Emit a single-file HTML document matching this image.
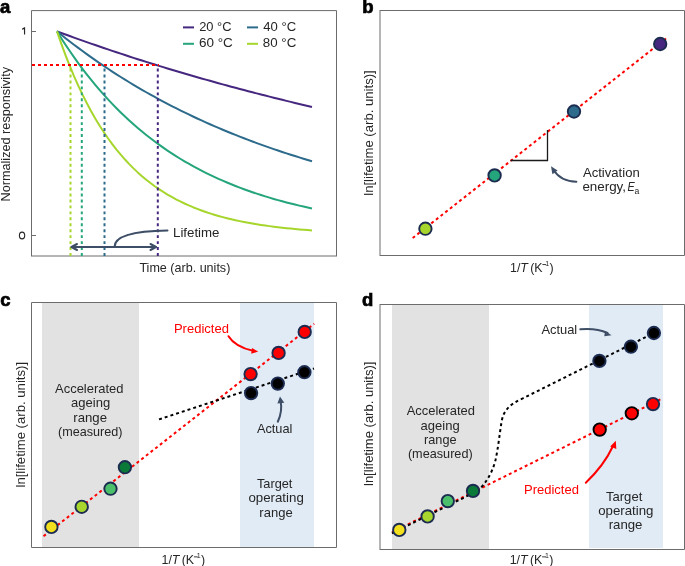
<!DOCTYPE html>
<html><head><meta charset="utf-8"><style>
html,body{margin:0;padding:0;background:#fff;width:685px;height:566px;overflow:hidden;font-family:"Liberation Sans",sans-serif;}
svg{display:block;will-change:transform;}
</style></head><body>
<svg width="685" height="566" viewBox="0 0 685 566">
<rect width="685" height="566" fill="#fff"/>
<g font-family="Liberation Sans, sans-serif" font-weight="bold" font-size="18.5" fill="#000" stroke="#000" stroke-width="0.7"><text x="-0.1" y="13.0">a</text><text x="362.3" y="13.0">b</text><text x="0.3" y="306.2">c</text><text x="362.1" y="306.2">d</text></g>
<path d="M31.5,10.6 H336.5 M336.5,10.5 V256 M31.5,10.5 V256" fill="none" stroke="#6c6c6c" stroke-width="1"/>
<path d="M31,256 H337" stroke="#6c6c6c" stroke-width="1"/>
<path d="M31.5,31.5 H36 M31.5,235.5 H36" stroke="#6c6c6c" stroke-width="1"/>
<path d="M24.55,27.3 V34.6 M24.55,27.6 Q23.8,28.9 22.1,29.1" fill="none" stroke="#262626" stroke-width="1.15"/>
<ellipse cx="22.05" cy="235.5" rx="2.65" ry="3.35" fill="none" stroke="#262626" stroke-width="1.1"/>
<g fill="none" stroke-width="2" stroke-linejoin="round"><path d="M57.00,31.40 L61.25,32.97 L65.50,34.52 L69.75,36.06 L74.00,37.59 L78.25,39.11 L82.50,40.62 L86.75,42.12 L91.00,43.60 L95.25,45.07 L99.50,46.53 L103.75,47.98 L108.00,49.42 L112.25,50.85 L116.50,52.27 L120.75,53.67 L125.00,55.07 L129.25,56.46 L133.50,57.83 L137.75,59.19 L142.00,60.55 L146.25,61.89 L150.50,63.22 L154.75,64.54 L159.00,65.85 L163.25,67.16 L167.50,68.45 L171.75,69.73 L176.00,71.00 L180.25,72.26 L184.50,73.52 L188.75,74.76 L193.00,75.99 L197.25,77.22 L201.50,78.43 L205.75,79.64 L210.00,80.83 L214.25,82.02 L218.50,83.20 L222.75,84.37 L227.00,85.53 L231.25,86.68 L235.50,87.82 L239.75,88.95 L244.00,90.08 L248.25,91.19 L252.50,92.30 L256.75,93.40 L261.00,94.49 L265.25,95.57 L269.50,96.65 L273.75,97.71 L278.00,98.77 L282.25,99.82 L286.50,100.86 L290.75,101.89 L295.00,102.92 L299.25,103.93 L303.50,104.94 L307.75,105.95 L312.00,106.94" stroke="#46277f"/><path d="M57.00,31.40 L61.25,34.81 L65.50,38.17 L69.75,41.47 L74.00,44.71 L78.25,47.90 L82.50,51.03 L86.75,54.12 L91.00,57.15 L95.25,60.13 L99.50,63.06 L103.75,65.95 L108.00,68.78 L112.25,71.57 L116.50,74.31 L120.75,77.00 L125.00,79.65 L129.25,82.25 L133.50,84.82 L137.75,87.33 L142.00,89.81 L146.25,92.25 L150.50,94.64 L154.75,96.99 L159.00,99.31 L163.25,101.59 L167.50,103.82 L171.75,106.02 L176.00,108.19 L180.25,110.32 L184.50,112.41 L188.75,114.46 L193.00,116.49 L197.25,118.48 L201.50,120.43 L205.75,122.35 L210.00,124.25 L214.25,126.10 L218.50,127.93 L222.75,129.73 L227.00,131.50 L231.25,133.24 L235.50,134.94 L239.75,136.62 L244.00,138.28 L248.25,139.90 L252.50,141.50 L256.75,143.07 L261.00,144.61 L265.25,146.13 L269.50,147.62 L273.75,149.09 L278.00,150.54 L282.25,151.96 L286.50,153.35 L290.75,154.72 L295.00,156.07 L299.25,157.40 L303.50,158.70 L307.75,159.99 L312.00,161.25" stroke="#2d6b8c"/><path d="M57.00,31.40 L61.25,38.17 L65.50,44.72 L69.75,51.04 L74.00,57.16 L78.25,63.08 L82.50,68.80 L86.75,74.33 L91.00,79.67 L95.25,84.84 L99.50,89.84 L103.75,94.67 L108.00,99.34 L112.25,103.85 L116.50,108.22 L120.75,112.44 L125.00,116.52 L129.25,120.46 L133.50,124.28 L137.75,127.97 L142.00,131.53 L146.25,134.98 L150.50,138.31 L154.75,141.53 L159.00,144.65 L163.25,147.66 L167.50,150.57 L171.75,153.39 L176.00,156.11 L180.25,158.74 L184.50,161.28 L188.75,163.74 L193.00,166.12 L197.25,168.42 L201.50,170.64 L205.75,172.79 L210.00,174.87 L214.25,176.88 L218.50,178.82 L222.75,180.70 L227.00,182.51 L231.25,184.27 L235.50,185.97 L239.75,187.61 L244.00,189.19 L248.25,190.73 L252.50,192.21 L256.75,193.64 L261.00,195.03 L265.25,196.37 L269.50,197.66 L273.75,198.92 L278.00,200.13 L282.25,201.30 L286.50,202.43 L290.75,203.52 L295.00,204.58 L299.25,205.60 L303.50,206.59 L307.75,207.55 L312.00,208.47" stroke="#25a57c"/><path d="M57.00,31.40 L61.25,43.63 L65.50,55.13 L69.75,65.94 L74.00,76.10 L78.25,85.65 L82.50,94.63 L86.75,103.07 L91.00,111.01 L95.25,118.46 L99.50,125.48 L103.75,132.07 L108.00,138.26 L112.25,144.09 L116.50,149.56 L120.75,154.71 L125.00,159.55 L129.25,164.10 L133.50,168.37 L137.75,172.39 L142.00,176.17 L146.25,179.72 L150.50,183.06 L154.75,186.20 L159.00,189.15 L163.25,191.92 L167.50,194.53 L171.75,196.98 L176.00,199.28 L180.25,201.45 L184.50,203.48 L188.75,205.40 L193.00,207.20 L197.25,208.89 L201.50,210.48 L205.75,211.97 L210.00,213.38 L214.25,214.70 L218.50,215.94 L222.75,217.11 L227.00,218.20 L231.25,219.23 L235.50,220.20 L239.75,221.11 L244.00,221.97 L248.25,222.78 L252.50,223.53 L256.75,224.24 L261.00,224.91 L265.25,225.54 L269.50,226.13 L273.75,226.69 L278.00,227.21 L282.25,227.70 L286.50,228.16 L290.75,228.60 L295.00,229.01 L299.25,229.39 L303.50,229.75 L307.75,230.09 L312.00,230.41" stroke="#a6d62c"/></g>
<g fill="none" stroke-width="2" stroke-dasharray="2.9 3.05"><path d="M70.5,68.6 V256" stroke="#a6d62c"/><path d="M81.8,68.6 V256" stroke="#25a57c"/><path d="M104.5,68.6 V256" stroke="#2d6b8c"/><path d="M157.8,68.6 V256" stroke="#46277f"/></g>
<path d="M32,65 H159" stroke="#ff0000" stroke-width="2" stroke-dasharray="3 3" fill="none"/>
<g stroke-width="2"><path d="M183,27.4 H194" stroke="#46277f"/><path d="M247,27.4 H258" stroke="#2d6b8c"/><path d="M183,43.8 H194" stroke="#25a57c"/><path d="M247,43.8 H258" stroke="#a6d62c"/></g>
<g fill="none" stroke="#3e4e66" stroke-width="2" stroke-linecap="round" stroke-linejoin="round"><path d="M71.5,247 H156"/><path d="M77,244 L71.5,247 L77,250"/><path d="M150.5,244 L156,247 L150.5,250"/><path d="M114.5,247 C114.5,236 135,231 167.5,230.6"/></g>
<path d="M380,10.5 H684.5 V255.5 H380" fill="none" stroke="#6c6c6c" stroke-width="1"/>
<path d="M380,10 V256" stroke="#6c6c6c" stroke-width="1"/>
<path d="M412,238.6 L666,38.5" stroke="#ff0000" stroke-width="2" stroke-dasharray="2.965 2.965" stroke-dashoffset="-0.85" fill="none"/>
<path d="M510.5,160.5 H547.5 V130" fill="none" stroke="#1a1a1a" stroke-width="1.3"/>
<circle cx="425.4" cy="228.7" r="6.2" fill="#a6d62c" stroke="#1c2b50" stroke-width="1.9"/><circle cx="494.6" cy="175.4" r="6.2" fill="#25a57c" stroke="#1c2b50" stroke-width="1.9"/><circle cx="574" cy="111.5" r="6.2" fill="#2d6b8c" stroke="#1c2b50" stroke-width="1.9"/><circle cx="660.2" cy="44" r="6.2" fill="#46277f" stroke="#1c2b50" stroke-width="1.9"/>
<path d="M576.4,181.7 C566,181.5 558,177 553.5,170" fill="none" stroke="#3e4e66" stroke-width="2" stroke-linecap="round"/>
<path d="M551,166.3 L552.4,174.2 L557.6,170.4 Z" fill="#3e4e66"/>
<rect x="42" y="303" width="97" height="244" fill="#e2e2e2"/>
<rect x="240" y="303" width="74" height="244" fill="#e1ebf6"/>
<path d="M31.5,302.5 H336.5 V547.5 H31.5 Z" fill="none" stroke="#6c6c6c" stroke-width="1"/>
<path d="M43.5,536.2 L314.2,323.8" stroke="#ff0000" stroke-width="2" stroke-dasharray="2.96 2.96" fill="none"/>
<path d="M159,419.4 L314,368.5" stroke="#000" stroke-width="2" stroke-dasharray="3 3" fill="none"/>
<circle cx="51.4" cy="526.9" r="6.2" fill="#f2df1e" stroke="#1c2b50" stroke-width="1.9"/><circle cx="81.7" cy="506.8" r="6.2" fill="#a8d62c" stroke="#1c2b50" stroke-width="1.9"/><circle cx="110.5" cy="488.7" r="6.2" fill="#4cbf6b" stroke="#1c2b50" stroke-width="1.9"/><circle cx="124.9" cy="467.2" r="6.2" fill="#0b7a38" stroke="#1c2b50" stroke-width="1.9"/>
<circle cx="250.6" cy="374.1" r="6.2" fill="#ff0000" stroke="#1c2b50" stroke-width="1.9"/><circle cx="278.6" cy="352.9" r="6.2" fill="#ff0000" stroke="#1c2b50" stroke-width="1.9"/><circle cx="304.7" cy="331.9" r="6.2" fill="#ff0000" stroke="#1c2b50" stroke-width="1.9"/>
<circle cx="251.1" cy="393.1" r="6.2" fill="#000" stroke="#1c2b50" stroke-width="1.9"/><circle cx="277.8" cy="383.6" r="6.2" fill="#000" stroke="#1c2b50" stroke-width="1.9"/><circle cx="304.4" cy="372.2" r="6.2" fill="#000" stroke="#1c2b50" stroke-width="1.9"/>
<path d="M228.5,336.2 C234,345 243,348.5 253,350.8" fill="none" stroke="#ff0000" stroke-width="2" stroke-linecap="round"/>
<path d="M258.2,351.6 L252,348 L251.2,353.8 Z" fill="#ff0000"/>
<path d="M277.8,421.7 C281,415 282,408 280.6,401" fill="none" stroke="#3e4e66" stroke-width="2" stroke-linecap="round"/>
<path d="M280,396.5 L277.4,403.6 L284.3,402.8 Z" fill="#3e4e66"/>
<rect x="392" y="305" width="97" height="244" fill="#e2e2e2"/>
<rect x="589" y="305" width="74" height="243" fill="#e1ebf6"/>
<path d="M380,304.5 H684.5 V549.5 H380" fill="none" stroke="#6c6c6c" stroke-width="1"/>
<path d="M380,304 V550" stroke="#6c6c6c" stroke-width="1"/>
<path d="M391.3,532.6 L661.8,398.7" stroke="#ff0000" stroke-width="2" stroke-dasharray="2.965 2.965" stroke-dashoffset="-0.73" fill="none"/>
<path d="M391.3,533.6 L478,490.7 C485,484 492,474 495.5,460 C498,449 499.5,435 501.5,422 C503.5,410 510,404 522.8,398.4 L653.9,333" stroke="#000" stroke-width="2" stroke-dasharray="2.965 2.965" stroke-dashoffset="-0.73" fill="none"/>
<circle cx="399.3" cy="529.9" r="6.2" fill="#f2df1e" stroke="#1c2b50" stroke-width="1.9"/><circle cx="427.6" cy="516.4" r="6.2" fill="#a8d62c" stroke="#1c2b50" stroke-width="1.9"/><circle cx="447.8" cy="501.1" r="6.2" fill="#4cbf6b" stroke="#1c2b50" stroke-width="1.9"/><circle cx="473" cy="490.9" r="6.2" fill="#0b7a38" stroke="#1c2b50" stroke-width="1.9"/>
<circle cx="599.4" cy="360.9" r="6.2" fill="#000" stroke="#1c2b50" stroke-width="1.9"/><circle cx="630.9" cy="346.7" r="6.2" fill="#000" stroke="#1c2b50" stroke-width="1.9"/><circle cx="653.9" cy="333" r="6.2" fill="#000" stroke="#1c2b50" stroke-width="1.9"/>
<circle cx="599.7" cy="429.6" r="6.2" fill="#ff0000" stroke="#000" stroke-width="1.9"/><circle cx="631.8" cy="413.3" r="6.2" fill="#ff0000" stroke="#000" stroke-width="1.9"/><circle cx="653" cy="404.1" r="6.2" fill="#ff0000" stroke="#1c2b50" stroke-width="1.9"/>
<path d="M580.3,329.3 C592,328.3 601,330 607.5,333" fill="none" stroke="#3e4e66" stroke-width="2" stroke-linecap="round"/>
<path d="M611.6,335.2 L605,331 L604.3,336.3 Z" fill="#3e4e66"/>
<path d="M585.8,482.8 C597,472 606,461 612.5,447" fill="none" stroke="#ff0000" stroke-width="2" stroke-linecap="round"/>
<path d="M615.8,440.8 L610.2,446.6 L616.3,448.9 Z" fill="#ff0000"/>
<g font-family="Liberation Sans, sans-serif" font-size="12.4" fill="#262626"><text x="510.00" y="271.7">1/</text><text x="520.30" y="271.7" font-style="italic">T</text><text x="530.20" y="271.7">(K</text><path d="M542.40,264.55 h3.8" stroke="#262626" stroke-width="0.9"/><text x="545.20" y="265.70" font-size="7">1</text><text x="549.50" y="271.7">)</text></g>
<g font-family="Liberation Sans, sans-serif" font-size="12.4" fill="#262626"><text x="161.50" y="564">1/</text><text x="171.80" y="564" font-style="italic">T</text><text x="181.70" y="564">(K</text><path d="M193.90,556.85 h3.8" stroke="#262626" stroke-width="0.9"/><text x="196.70" y="558.00" font-size="7">1</text><text x="201.00" y="564">)</text></g>
<g font-family="Liberation Sans, sans-serif" font-size="12.4" fill="#262626"><text x="509.70" y="564">1/</text><text x="520.00" y="564" font-style="italic">T</text><text x="529.90" y="564">(K</text><path d="M542.10,556.85 h3.8" stroke="#262626" stroke-width="0.9"/><text x="544.90" y="558.00" font-size="7">1</text><text x="549.20" y="564">)</text></g>
<text font-family="Liberation Sans, sans-serif" font-size="12.4" fill="#262626" font-style="italic" x="627.6" y="190.8" textLength="7.2" lengthAdjust="spacingAndGlyphs">E</text>
<text font-family="Liberation Sans, sans-serif" font-size="8.6" fill="#262626" x="634.6" y="194.4">a</text>
<text font-family="Liberation Sans, sans-serif" font-size="12.4" fill="#262626" text-anchor="start" transform="translate(199.20,31) scale(1.0400,1)">20 °C</text>
<text font-family="Liberation Sans, sans-serif" font-size="12.4" fill="#262626" text-anchor="start" transform="translate(263.20,31) scale(1.0574,1)">40 °C</text>
<text font-family="Liberation Sans, sans-serif" font-size="12.4" fill="#262626" text-anchor="start" transform="translate(198.90,47.4) scale(1.0884,1)">60 °C</text>
<text font-family="Liberation Sans, sans-serif" font-size="12.4" fill="#262626" text-anchor="start" transform="translate(262.80,47.4) scale(1.0761,1)">80 °C</text>
<text font-family="Liberation Sans, sans-serif" font-size="12.4" fill="#262626" text-anchor="start" transform="translate(173.00,236.6) scale(1.0719,1)">Lifetime</text>
<text font-family="Liberation Sans, sans-serif" font-size="12.4" fill="#262626" text-anchor="start" transform="translate(139.40,271.5) scale(1.0141,1)">Time (arb. units)</text>
<text font-family="Liberation Sans, sans-serif" font-size="12.4" fill="#262626" text-anchor="start" transform="translate(10.3,201.50) rotate(-90) scale(1.0230,1)">Normalized responsivity</text>
<text font-family="Liberation Sans, sans-serif" font-size="12.4" fill="#262626" text-anchor="start" transform="translate(582.90,176.6) scale(1.0585,1)">Activation</text>
<text font-family="Liberation Sans, sans-serif" font-size="12.4" fill="#262626" text-anchor="start" transform="translate(582.40,190.6) scale(1.0800,1)">energy,</text>
<text font-family="Liberation Sans, sans-serif" font-size="12.4" fill="#262626" text-anchor="start" transform="translate(372.6,195.75) rotate(-90) scale(1.0600,1)">ln[lifetime (arb. units)]</text>
<text font-family="Liberation Sans, sans-serif" font-size="12.4" fill="#ff0000" text-anchor="start" transform="translate(173.90,333.2) scale(1.0505,1)">Predicted</text>
<text font-family="Liberation Sans, sans-serif" font-size="12.4" fill="#262626" text-anchor="start" transform="translate(55.05,393.4) scale(1.0456,1)">Accelerated</text>
<text font-family="Liberation Sans, sans-serif" font-size="12.4" fill="#262626" text-anchor="start" transform="translate(71.05,407.4) scale(1.0500,1)">ageing</text>
<text font-family="Liberation Sans, sans-serif" font-size="12.4" fill="#262626" text-anchor="start" transform="translate(73.30,421.8) scale(1.0639,1)">range</text>
<text font-family="Liberation Sans, sans-serif" font-size="12.4" fill="#262626" text-anchor="start" transform="translate(58.05,436.1) scale(1.0186,1)">(measured)</text>
<text font-family="Liberation Sans, sans-serif" font-size="12.4" fill="#262626" text-anchor="start" transform="translate(256.90,488) scale(1.0309,1)">Target</text>
<text font-family="Liberation Sans, sans-serif" font-size="12.4" fill="#262626" text-anchor="start" transform="translate(248.40,502.3) scale(1.0723,1)">operating</text>
<text font-family="Liberation Sans, sans-serif" font-size="12.4" fill="#262626" text-anchor="start" transform="translate(259.30,516.5) scale(1.0525,1)">range</text>
<text font-family="Liberation Sans, sans-serif" font-size="12.4" fill="#262626" text-anchor="start" transform="translate(256.90,433.4) scale(1.0311,1)">Actual</text>
<text font-family="Liberation Sans, sans-serif" font-size="12.4" fill="#262626" text-anchor="start" transform="translate(25,487.50) rotate(-90) scale(1.0603,1)">ln[lifetime (arb. units)]</text>
<text font-family="Liberation Sans, sans-serif" font-size="12.4" fill="#262626" text-anchor="start" transform="translate(406.65,415.4) scale(1.0448,1)">Accelerated</text>
<text font-family="Liberation Sans, sans-serif" font-size="12.4" fill="#262626" text-anchor="start" transform="translate(420.55,429.6) scale(1.0500,1)">ageing</text>
<text font-family="Liberation Sans, sans-serif" font-size="12.4" fill="#262626" text-anchor="start" transform="translate(424.05,443.9) scale(1.0249,1)">range</text>
<text font-family="Liberation Sans, sans-serif" font-size="12.4" fill="#262626" text-anchor="start" transform="translate(407.90,457.8) scale(1.0227,1)">(measured)</text>
<text font-family="Liberation Sans, sans-serif" font-size="12.4" fill="#262626" text-anchor="start" transform="translate(605.90,500.9) scale(1.0574,1)">Target</text>
<text font-family="Liberation Sans, sans-serif" font-size="12.4" fill="#262626" text-anchor="start" transform="translate(598.15,515.4) scale(1.0697,1)">operating</text>
<text font-family="Liberation Sans, sans-serif" font-size="12.4" fill="#262626" text-anchor="start" transform="translate(608.65,529.3) scale(1.0673,1)">range</text>
<text font-family="Liberation Sans, sans-serif" font-size="12.4" fill="#262626" text-anchor="start" transform="translate(541.40,333.9) scale(1.0415,1)">Actual</text>
<text font-family="Liberation Sans, sans-serif" font-size="12.4" fill="#ff0000" text-anchor="start" transform="translate(524.00,493.9) scale(1.0495,1)">Predicted</text>
<text font-family="Liberation Sans, sans-serif" font-size="12.4" fill="#262626" text-anchor="start" transform="translate(373,486.00) rotate(-90) scale(1.0496,1)">ln[lifetime (arb. units)]</text>
</svg>
</body></html>
